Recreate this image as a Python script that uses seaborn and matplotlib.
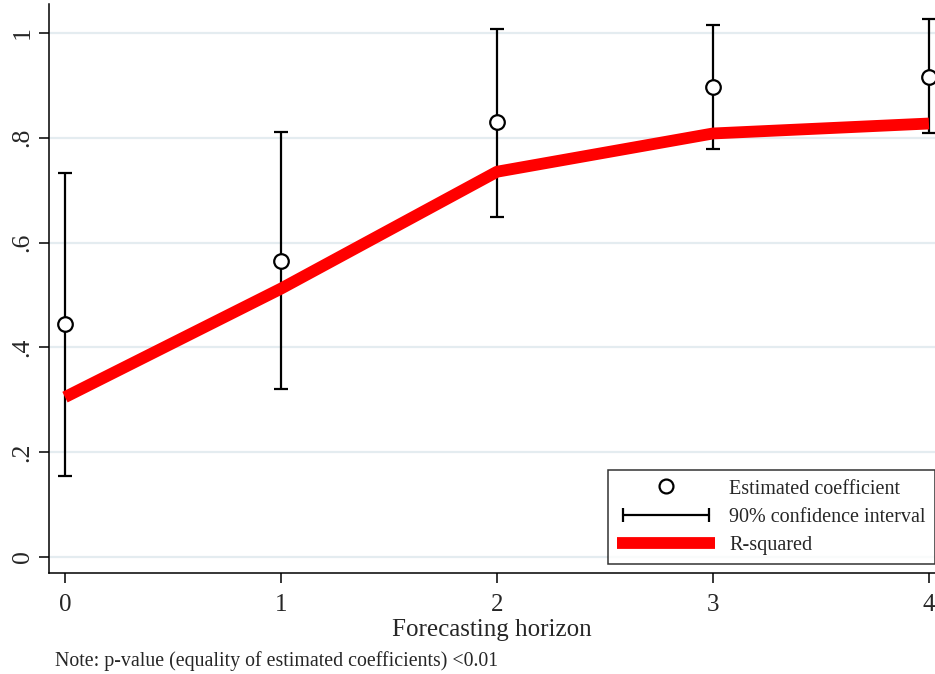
import numpy as np
import pandas as pd
import seaborn as sns
import matplotlib
matplotlib.use("Agg")
import matplotlib.pyplot as plt
from matplotlib.lines import Line2D
from matplotlib.legend_handler import HandlerLine2D

horizon = [0, 1, 2, 3, 4]
coef = [0.444, 0.564, 0.829, 0.897, 0.916]
ci_low = [0.154, 0.320, 0.648, 0.779, 0.808]
ci_high = [0.733, 0.810, 1.008, 1.015, 1.027]
r_squared = [0.305, 0.512, 0.735, 0.808, 0.827]
y_ticks = [0, 0.2, 0.4, 0.6, 0.8, 1.0]
y_ticklabels = ["0", ".2", ".4", ".6", ".8", "1"]
x_ticks = [0, 1, 2, 3, 4]
x_label = "Forecasting horizon"
note = "Note: p-value (equality of estimated coefficients) <0.01"
legend_labels = ["Estimated coefficient", "90% confidence interval", "R-squared"]

df = pd.DataFrame({"horizon": horizon, "coef": coef, "lo": ci_low,
                   "hi": ci_high, "r2": r_squared})

sns.set_theme(style="white")
plt.rcParams["font.family"] = ["Liberation Serif", "DejaVu Serif"]

fig = plt.figure(figsize=(9.35, 6.74), dpi=100)
W, H = 935, 674
ax = fig.add_axes([49 / W, (H - 573) / H, 886 / W, 569 / H])

# grid lines
for yv in y_ticks:
    ax.axhline(yv, color="#e4ecf0", lw=1.6, zorder=0)

# confidence intervals
yerr = np.array([df["coef"] - df["lo"], df["hi"] - df["coef"]])
ax.errorbar(df["horizon"], df["coef"], yerr=yerr, fmt="none", ecolor="black",
            elinewidth=1.6, capsize=5, capthick=1.6, zorder=2)

# R-squared line
sns.lineplot(data=df, x="horizon", y="r2", ax=ax, color="#ff0000", lw=8.5,
             zorder=3, solid_capstyle="butt", legend=False)

# coefficients
sns.scatterplot(data=df, x="horizon", y="coef", ax=ax, s=110, marker="o",
                facecolor="white", edgecolor="black", linewidth=1.6, zorder=4,
                legend=False)

ax.set_xlim(-0.074, 4.028)
ax.set_ylim(-0.0305, 1.055)
ax.set_xticks(x_ticks)
ax.set_xticklabels([str(x) for x in x_ticks], fontsize=18)
ax.set_yticks(y_ticks)
ax.set_yticklabels(y_ticklabels, fontsize=18.5, rotation=90, va="center")
ax.tick_params(axis="both", direction="out", length=7, width=1.1, color="black",
               bottom=True, left=True)
ax.tick_params(axis="x", pad=8)
ax.tick_params(axis="y", pad=4)
ax.set_xlabel(x_label, fontsize=18, labelpad=2)
ax.set_ylabel("")
for s in ["top", "right"]:
    ax.spines[s].set_visible(False)
for s in ["left", "bottom"]:
    ax.spines[s].set_color("black")
    ax.spines[s].set_linewidth(1.1)

h_coef = Line2D([], [], ls="none", marker="o", markersize=10,
                markerfacecolor="white", markeredgecolor="black",
                markeredgewidth=1.6)
h_ci = Line2D([], [], color="black", lw=1.6, marker="|", markersize=10,
              markeredgewidth=1.6)
h_r2 = Line2D([], [], color="#ff0000", lw=8.5, solid_capstyle="butt")
leg = ax.legend([h_coef, h_ci, h_r2], legend_labels, loc="lower right",
                bbox_to_anchor=(1.0, 0.016), fontsize=14.5, frameon=True,
                fancybox=False, handlelength=4.9, handletextpad=0.7,
                labelspacing=0.45, borderpad=0.45, borderaxespad=0,
                handler_map={h_ci: HandlerLine2D(numpoints=2)})
leg.get_frame().set_edgecolor("black")
leg.get_frame().set_linewidth(1.1)

fig.text(55 / W, 1 - 661 / H, note, fontsize=14.3, ha="left", va="center")

fig.savefig("out.png", dpi=100)
